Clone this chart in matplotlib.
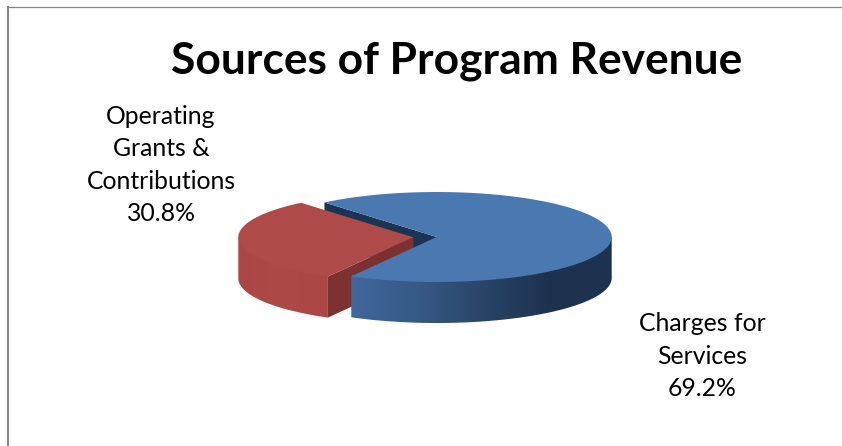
import numpy as np
import matplotlib
matplotlib.use('Agg')
import matplotlib.pyplot as plt
from matplotlib.patches import Polygon
from matplotlib.colors import LinearSegmentedColormap

# Data
labels = ['Operating\nGrants &\nContributions', 'Charges for\nServices']
shares = [30.8, 69.2]
title = 'Sources of Program Revenue'

plt.rcParams['font.family'] = ['Lato', 'DejaVu Sans']

W, H = 842, 446
fig = plt.figure(figsize=(W / 100, H / 100), dpi=100)
ax = fig.add_axes([0, 0, 1, 1])
ax.set_xlim(0, W)
ax.set_ylim(H, 0)
ax.axis('off')

# Ellipse shape of the pie and how far it is extruded
rx, ry = 175, 45
depth = 41
cx_blue, cy_blue = 436.7, 237
cx_red, cy_red = 413.3, 237.3

# Slice angles, red starts where the first slice angle puts it
start = 129.9
red_a0 = start
red_a1 = start + shares[0] / 100 * 360
blue_a0 = red_a1
blue_a1 = blue_a0 + shares[1] / 100 * 360


def rim(cx, cy, a0, a1, n=200, shrink=0):
    t = np.radians(np.linspace(a0, a1, n))
    return np.column_stack([cx + (rx - shrink) * np.cos(t), cy - (ry - shrink) * np.sin(t)])


def shaded(pts, stops, x0, x1, z):
    # horizontal gradient clipped to a polygon
    cmap = LinearSegmentedColormap.from_list('side', stops)
    poly = Polygon(pts, closed=True, fc='none', ec='none', zorder=z)
    ax.add_patch(poly)
    ymin, ymax = pts[:, 1].min(), pts[:, 1].max()
    im = ax.imshow(np.linspace(0, 1, 256)[None, :], cmap=cmap, aspect='auto',
                   extent=[x0, x1, ymax, ymin], zorder=z, interpolation='bilinear')
    im.set_clip_path(poly)
    ax.set_xlim(0, W)
    ax.set_ylim(H, 0)


def wall_shape(cx, cy, a0, a1):
    # upper edge is pulled in a little so no seam shows under the top face
    outer = rim(cx, cy, a0, a1)
    inner = rim(cx, cy, a0, a1, shrink=2)
    upper = np.vstack([outer[:1], inner, outer[-1:]])
    return outer, np.vstack([upper, outer[::-1] + [0, depth]])


# Dark cut face at the back of the blue slice
back_start = rim(cx_blue, cy_blue, start, start, 1)[0]
apex_blue = np.array([cx_blue, cy_blue])
ax.add_patch(Polygon([back_start, apex_blue, apex_blue + [0, depth], back_start + [0, depth]],
                     closed=True, fc='#1b3454', ec='none', zorder=1))

# Red slice: outer wall, cut face, top
edge, wall = wall_shape(cx_red, cy_red, 180, red_a1)
shaded(wall, ['#aa4744', '#ad4946', '#aa4744'], edge[0, 0], edge[-1, 0], 2)
apex_red = np.array([cx_red, cy_red])
corner = edge[-1]
ax.add_patch(Polygon([corner, apex_red, apex_red + [0, depth], corner + [0, depth]],
                     closed=True, fc='#7a312f', ec='none', zorder=3))
ax.add_patch(Polygon(np.vstack([apex_red, rim(cx_red, cy_red, red_a0, red_a1)]),
                     closed=True, fc='#ae4a47', ec='none', zorder=4))

# Blue slice: outer wall, top
edge, wall = wall_shape(cx_blue, cy_blue, blue_a0, 360)
shaded(wall, ['#40689c', '#375a86', '#2a4568', '#1d3350', '#1c324e'], edge[0, 0], edge[-1, 0], 5)
ax.add_patch(Polygon(np.vstack([apex_blue, rim(cx_blue, cy_blue, blue_a0, blue_a1)]),
                     closed=True, fc='#4a78b0', ec='none', zorder=6))

# Chart border
ax.plot([8, 8], [6, H], color='#868686', lw=1.5, solid_capstyle='butt', zorder=7)
ax.plot([7, W], [6.5, 6.5], color='#868686', lw=0.9, solid_capstyle='butt', zorder=7)

# Texts
ax.text(457, 61, title, ha='center', va='center', fontsize=31.9, fontweight='bold', color='black', zorder=8)
ax.text(161, 165, labels[0] + '\n%.1f%%' % shares[0], ha='center', va='center', fontsize=17.8,
        linespacing=1.48, color='black', zorder=8)
ax.text(702, 356, labels[1] + '\n%.1f%%' % shares[1], ha='center', va='center', fontsize=17.8,
        linespacing=1.48, color='black', zorder=8)

fig.savefig('out.png', dpi=100, facecolor='white')
